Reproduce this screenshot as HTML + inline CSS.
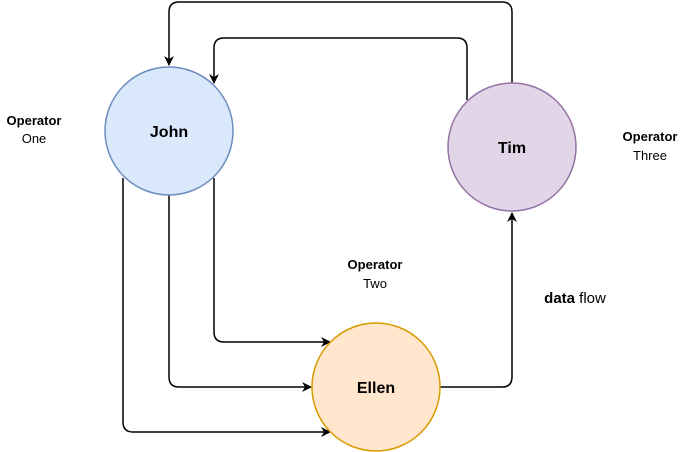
<!DOCTYPE html>
<html><head><style>body{margin:0;background:#fff}svg{display:block}text{font-family:"Liberation Sans",sans-serif;fill:#000}</style></head><body>
<svg width="685" height="452" viewBox="0 0 685 452">
<defs><marker id="a" markerWidth="10" markerHeight="10" refX="9" refY="5" orient="auto" markerUnits="userSpaceOnUse"><path d="M0,0 L10,5 L0,10 L3,5 Z" fill="#000"/></marker></defs>
<g fill="none" stroke="#000" stroke-width="1.5">
<path d="M512,83 V12 Q512,2 502,2 H179 Q169,2 169,12 V65" marker-end="url(#a)"/>
<path d="M467,100 V48 Q467,38 457,38 H224 Q214,38 214,48 V83" marker-end="url(#a)"/>
<path d="M123,178 V422 Q123,432 133,432 H330" marker-end="url(#a)"/>
<path d="M169,195 V377 Q169,387 179,387 H311" marker-end="url(#a)"/>
<path d="M214,178 V332 Q214,342 224,342 H330" marker-end="url(#a)"/>
<path d="M440,387 H502 Q512,387 512,377 V213" marker-end="url(#a)"/>
</g>
<circle cx="169" cy="131" r="64" fill="#dae8fc" stroke="#6c8ebf" stroke-width="1.5"/>
<circle cx="512" cy="147" r="64" fill="#e1d5e7" stroke="#9673a6" stroke-width="1.5"/>
<circle cx="376" cy="387" r="64" fill="#ffe6cc" stroke="#d79b00" stroke-width="1.5"/>
<g font-size="16" font-weight="bold" text-anchor="middle">
<text x="169" y="137">John</text><text x="512" y="153">Tim</text><text x="376" y="393">Ellen</text></g>
<g font-size="13" text-anchor="middle">
<text x="34" y="125" font-weight="bold">Operator</text><text x="34" y="143">One</text>
<text x="650" y="141" font-weight="bold">Operator</text><text x="650" y="160">Three</text>
<text x="375" y="269" font-weight="bold">Operator</text><text x="375" y="288">Two</text>
</g>
<text x="575" y="303" font-size="15" text-anchor="middle"><tspan font-weight="bold">data</tspan> flow</text>
</svg></body></html>
